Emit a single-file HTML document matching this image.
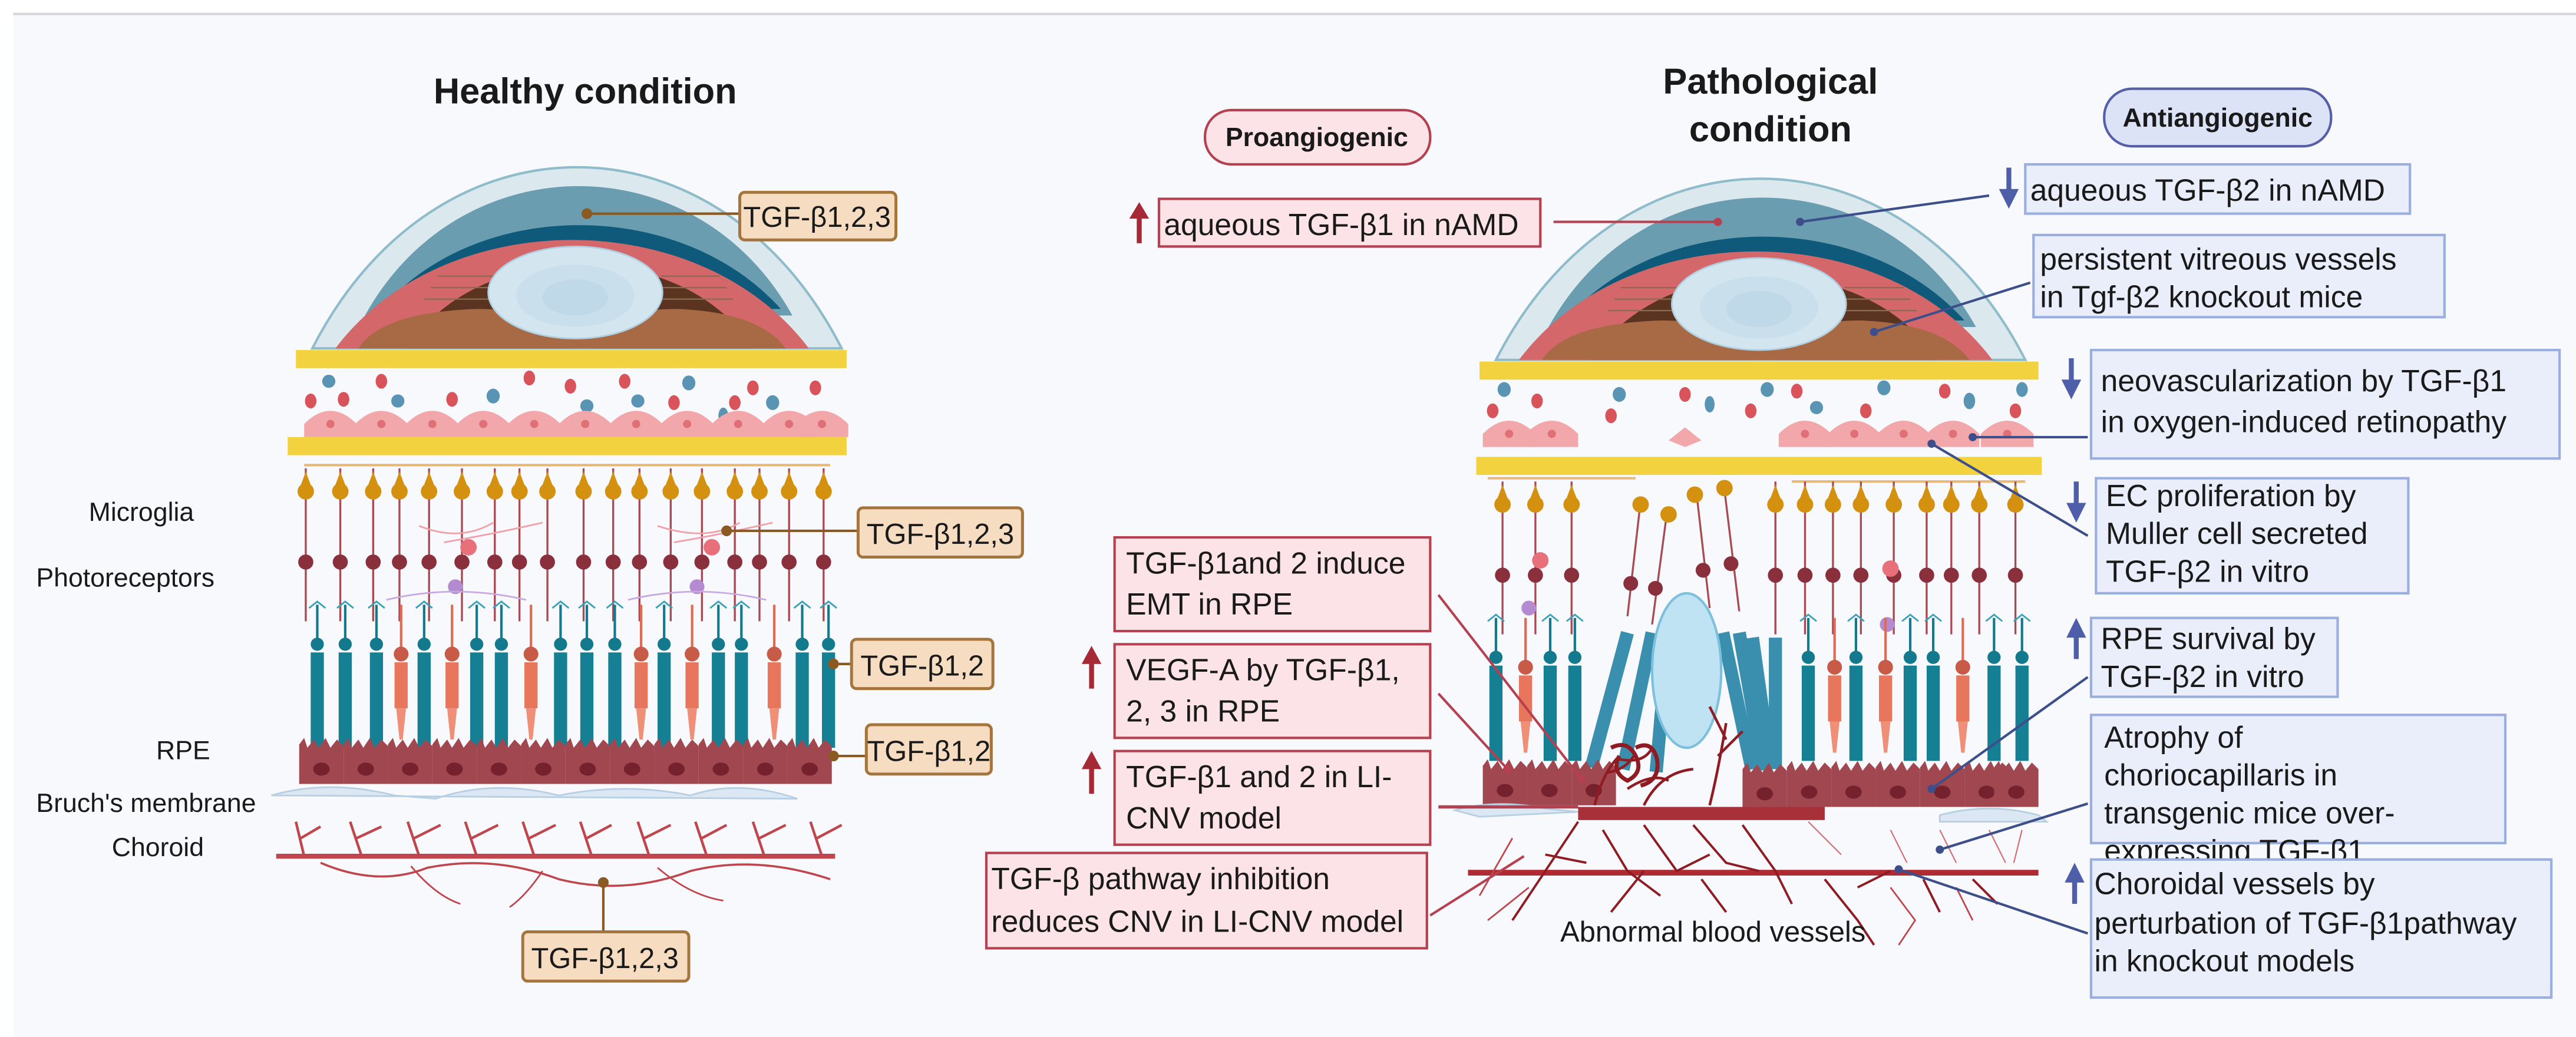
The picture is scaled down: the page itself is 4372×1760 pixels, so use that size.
<!DOCTYPE html>
<html><head><meta charset="utf-8"><style>
html,body{margin:0;padding:0;background:#fff;}
svg{display:block;}
text{font-family:"Liberation Sans",sans-serif;fill:#1a1a1a;}
</style></head><body>
<svg width="4372" height="1760" viewBox="0 0 1567 631" preserveAspectRatio="none" xmlns="http://www.w3.org/2000/svg">
<defs>
 <g id="up">
  <line x1="0" y1="285" x2="0" y2="378" stroke="#a84b55" stroke-width="1.2"/>
  <circle cx="0" cy="299" r="5" fill="#d4900f"/>
  <path d="M-3,295 L0,287 L3,295Z" fill="#d4900f"/>
  <circle cx="0" cy="342" r="4.6" fill="#8a2f3c"/>
 </g>
 <g id="rod">
  <line x1="0" y1="368" x2="0" y2="392" stroke="#13798c" stroke-width="1.5"/>
  <path d="M-5,370 L0,366 L5,370" stroke="#3aa0b5" fill="none" stroke-width="1"/>
  <circle cx="0" cy="392" r="4" fill="#13798c"/>
  <rect x="-4" y="397" width="8" height="58" fill="#157f93"/>
 </g>
 <g id="cone">
  <line x1="0" y1="368" x2="0" y2="398" stroke="#e06a52" stroke-width="1.5"/>
  <circle cx="0" cy="398" r="4.5" fill="#c85a48"/>
  <rect x="-4" y="403" width="8" height="28" fill="#e8765c"/>
  <path d="M-3,431 L3,431 L1,450 L-1,450Z" fill="#f08f78"/>
 </g>
 <g id="rpe">
  <path d="M0,4 L3,0 L5,6 L9,1 L12,6 L16,0 L19,6 L23,1 L27,5 L27,28 L0,28Z" fill="#a0474f"/>
  <ellipse cx="13.5" cy="19" rx="5" ry="4" fill="#76222e"/>
 </g>
 <g id="pc">
  <path d="M0,16 L0,8 Q8,0 16,0 Q24,0 32,8 L32,16Z" fill="#f2a7aa"/>
  <circle cx="16" cy="8" r="2.5" fill="#e07078"/>
 </g>
 <g id="eye">
  <path d="M190,212 C265,65 437,65 512,212Z" fill="#dbe9ef" stroke="#8fbccb" stroke-width="1.5"/>
  <path d="M222,192 C280,87 424,87 482,192Z" fill="#6a9db0"/>
  <path d="M232,188 C290,120 414,120 475,188Z" fill="#0f5a7a"/>
  <path d="M204,212 C270,124 426,124 492,212Z" fill="#d4676a"/>
  <path d="M248,212 C290,144 416,144 458,212Z" fill="#5a3420"/>
  <g stroke="#8a6a50" stroke-width="0.8">
   <line x1="262" y1="175" x2="300" y2="175"/><line x1="258" y1="182" x2="300" y2="182"/><line x1="266" y1="168" x2="300" y2="168"/>
   <line x1="402" y1="175" x2="442" y2="175"/><line x1="402" y1="182" x2="446" y2="182"/><line x1="402" y1="168" x2="438" y2="168"/>
  </g>
  <path d="M218,212 Q232,190 290,188 Q340,188 360,212Z" fill="#a86a45"/>
  <path d="M345,212 Q365,188 412,188 Q462,190 478,212Z" fill="#a86a45"/>
  <ellipse cx="350" cy="178" rx="53" ry="28" fill="#d3e6f0" stroke="#b0d0e2"/>
  <ellipse cx="350" cy="180" rx="36" ry="19" fill="#c9e0ec"/>
  <ellipse cx="350" cy="181" rx="20" ry="11" fill="#bfd9e8"/>
 </g>
</defs>

<rect x="0" y="0" width="1567" height="631" fill="#ffffff"/>
<rect x="8" y="9" width="1559" height="622" fill="#f7f9fc"/>
<line x1="8" y1="8.5" x2="1567" y2="8.5" stroke="#d6d6d6" stroke-width="1.5"/>

<!-- Titles -->
<text x="356" y="63" font-size="22" font-weight="bold" text-anchor="middle">Healthy condition</text>
<text x="1077" y="57" font-size="22" font-weight="bold" text-anchor="middle">Pathological</text>
<text x="1077" y="86" font-size="22" font-weight="bold" text-anchor="middle">condition</text>

<rect x="733" y="67" width="137" height="33" rx="16" fill="#fbe3e8" stroke="#b5404f" stroke-width="1.5"/>
<text x="801" y="89" font-size="16" font-weight="bold" text-anchor="middle">Proangiogenic</text>
<rect x="1280" y="54" width="138" height="35" rx="17" fill="#dde3f7" stroke="#5560a8" stroke-width="1.5"/>
<text x="1349" y="77" font-size="16" font-weight="bold" text-anchor="middle">Antiangiogenic</text>

<!-- LEFT EYE -->
<use href="#eye"/>
<rect x="180" y="213" width="335" height="11" fill="#f2d33f"/>
<g>
 <ellipse cx="200" cy="232" rx="4" ry="4" fill="#5a94b5"/><ellipse cx="189" cy="244" rx="3.5" ry="4.5" fill="#d9535b"/>
 <ellipse cx="209" cy="243" rx="3.5" ry="4.5" fill="#d9535b"/><ellipse cx="232" cy="232" rx="3.5" ry="4.5" fill="#d9535b"/>
 <ellipse cx="242" cy="244" rx="4" ry="4" fill="#5a94b5"/><ellipse cx="275" cy="243" rx="3.5" ry="4.5" fill="#d9535b"/>
 <ellipse cx="300" cy="241" rx="4" ry="4.5" fill="#5a94b5"/><ellipse cx="322" cy="230" rx="3.5" ry="4.5" fill="#d9535b"/>
 <ellipse cx="347" cy="235" rx="3.5" ry="4.5" fill="#d9535b"/><ellipse cx="357" cy="247" rx="4" ry="4" fill="#5a94b5"/>
 <ellipse cx="380" cy="232" rx="3.5" ry="4.5" fill="#d9535b"/><ellipse cx="388" cy="244" rx="4" ry="4" fill="#5a94b5"/>
 <ellipse cx="419" cy="233" rx="4" ry="4.5" fill="#5a94b5"/><ellipse cx="410" cy="245" rx="3.5" ry="4.5" fill="#d9535b"/>
 <ellipse cx="440" cy="253" rx="3" ry="5" fill="#5a94b5"/><ellipse cx="447" cy="245" rx="3.5" ry="4.5" fill="#d9535b"/>
 <ellipse cx="458" cy="236" rx="3.5" ry="4.5" fill="#d9535b"/><ellipse cx="470" cy="245" rx="4" ry="4.5" fill="#5a94b5"/>
 <ellipse cx="496" cy="236" rx="3.5" ry="4.5" fill="#d9535b"/>
</g>
<g>
 <use href="#pc" x="185" y="250"/><use href="#pc" x="216" y="250"/><use href="#pc" x="247" y="250"/><use href="#pc" x="278" y="250"/>
 <use href="#pc" x="309" y="250"/><use href="#pc" x="340" y="250"/><use href="#pc" x="371" y="250"/><use href="#pc" x="402" y="250"/>
 <use href="#pc" x="433" y="250"/><use href="#pc" x="464" y="250"/><use href="#pc" x="484" y="250"/>
</g>
<rect x="175" y="266" width="340" height="11" fill="#f2d33f"/>
<line x1="185" y1="283" x2="505" y2="283" stroke="#e6b87a" stroke-width="1.5"/>
<!-- left columns -->
<g>
 <use href="#up" x="186"/><use href="#up" x="207"/><use href="#up" x="227"/><use href="#up" x="243"/><use href="#up" x="261"/>
 <use href="#up" x="281"/><use href="#up" x="301"/><use href="#up" x="316"/><use href="#up" x="333"/><use href="#up" x="355"/>
 <use href="#up" x="373"/><use href="#up" x="389"/><use href="#up" x="408"/><use href="#up" x="427"/><use href="#up" x="447"/>
 <use href="#up" x="462"/><use href="#up" x="480"/><use href="#up" x="501"/>
 <path d="M255,320 Q280,330 300,318 M270,330 Q300,325 330,318" stroke="#f0a0a8" fill="none" stroke-width="1"/>
 <circle cx="285" cy="333" r="5" fill="#e8707a"/>
 <path d="M400,320 Q430,330 450,318 M410,330 Q440,325 470,318" stroke="#f0a0a8" fill="none" stroke-width="1"/>
 <circle cx="433" cy="333" r="5" fill="#e8707a"/>
 <circle cx="277" cy="357" r="4.5" fill="#b48ad0"/><path d="M235,365 Q277,355 320,365" stroke="#c8a8e0" fill="none"/>
 <circle cx="424" cy="357" r="4.5" fill="#b48ad0"/><path d="M382,365 Q424,355 466,365" stroke="#c8a8e0" fill="none"/>
 <use href="#rod" x="193"/><use href="#rod" x="210"/><use href="#rod" x="229"/><use href="#rod" x="258"/><use href="#rod" x="290"/>
 <use href="#rod" x="305"/><use href="#rod" x="341"/><use href="#rod" x="357"/><use href="#rod" x="374"/><use href="#rod" x="404"/>
 <use href="#rod" x="437"/><use href="#rod" x="451"/><use href="#rod" x="488"/><use href="#rod" x="504"/>
 <use href="#cone" x="244"/><use href="#cone" x="275"/><use href="#cone" x="323"/><use href="#cone" x="390"/><use href="#cone" x="421"/><use href="#cone" x="471"/>
</g>
<g>
 <use href="#rpe" x="182" y="449"/><use href="#rpe" x="209" y="449"/><use href="#rpe" x="236" y="449"/><use href="#rpe" x="263" y="449"/>
 <use href="#rpe" x="290" y="449"/><use href="#rpe" x="317" y="449"/><use href="#rpe" x="344" y="449"/><use href="#rpe" x="371" y="449"/>
 <use href="#rpe" x="398" y="449"/><use href="#rpe" x="425" y="449"/><use href="#rpe" x="452" y="449"/><use href="#rpe" x="479" y="449"/>
</g>
<path d="M165,484 Q200,474 240,484 L265,486 Q300,474 340,484 Q380,476 420,484 Q450,474 485,486 Z" fill="#dbe8f3" stroke="#b8cfe3"/>
<!-- choroid -->
<g stroke="#c0464e" fill="none" stroke-width="1.6">
 <line x1="168" y1="521" x2="508" y2="521" stroke-width="3"/>
 <path d="M185,521 L180,500 M183,510 L195,503 M220,521 L213,500 M217,510 L232,503 M255,521 L248,500 M252,510 L268,502 M290,521 L283,500 M287,510 L303,502 M325,521 L318,500 M322,510 L338,502 M360,521 L353,500 M357,510 L372,502 M395,521 L388,500 M392,510 L408,502 M430,521 L423,500 M427,510 L442,502 M465,521 L458,500 M462,510 L478,502 M500,521 L493,500 M497,510 L512,502"/>
 <path d="M195,525 Q230,540 260,528 Q300,520 340,535 Q380,545 420,530 Q460,520 505,535" stroke-width="1.3"/>
 <path d="M250,527 Q265,545 280,550 M400,528 Q420,545 440,548 M330,530 Q320,545 310,552" stroke-width="1"/>
</g>
<!-- Left labels -->
<text x="54" y="317" font-size="16">Microglia</text>
<text x="22" y="357" font-size="16">Photoreceptors</text>
<text x="95" y="462" font-size="16">RPE</text>
<text x="22" y="494" font-size="16">Bruch's membrane</text>
<text x="68" y="521" font-size="16">Choroid</text>
<!-- tan boxes -->
<g stroke="#8a5a22" stroke-width="1.5">
 <line x1="357" y1="130" x2="450" y2="130"/><circle cx="357" cy="130" r="2.5" fill="#8a5a22"/>
 <line x1="442" y1="323" x2="522" y2="323"/><circle cx="442" cy="323" r="2.5" fill="#8a5a22"/>
 <line x1="507" y1="404" x2="518" y2="404"/><circle cx="507" cy="404" r="2.5" fill="#8a5a22"/>
 <line x1="507" y1="460" x2="527" y2="460"/><circle cx="507" cy="460" r="2.5" fill="#8a5a22"/>
 <line x1="367" y1="537" x2="367" y2="567"/><circle cx="367" cy="537" r="2.5" fill="#8a5a22"/>
</g>
<g fill="#f6dcc0" stroke="#a6753e" stroke-width="1.8">
 <rect x="450" y="117" width="95" height="29" rx="3"/>
 <rect x="522" y="309" width="100" height="30" rx="3"/>
 <rect x="518" y="389" width="86" height="30" rx="3"/>
 <rect x="527" y="441" width="76" height="30" rx="3"/>
 <rect x="318" y="567" width="101" height="30" rx="3"/>
</g>
<text x="497" y="138" font-size="17.5" text-anchor="middle">TGF-β1,2,3</text>
<text x="572" y="331" font-size="17.5" text-anchor="middle">TGF-β1,2,3</text>
<text x="561" y="411" font-size="17.5" text-anchor="middle">TGF-β1,2</text>
<text x="565" y="463" font-size="17.5" text-anchor="middle">TGF-β1,2</text>
<text x="368" y="589" font-size="17.5" text-anchor="middle">TGF-β1,2,3</text>

<!-- RIGHT EYE -->
<use href="#eye" transform="translate(720,7)"/>
<rect x="900" y="220" width="340" height="11" fill="#f2d33f"/>
<g>
 <ellipse cx="915" cy="237" rx="4" ry="4.5" fill="#5a94b5"/><ellipse cx="908" cy="250" rx="3.5" ry="4.5" fill="#d9535b"/>
 <ellipse cx="935" cy="244" rx="3.5" ry="4.5" fill="#d9535b"/><ellipse cx="985" cy="240" rx="4" ry="4.5" fill="#5a94b5"/>
 <ellipse cx="980" cy="253" rx="3.5" ry="4.5" fill="#d9535b"/><ellipse cx="1025" cy="240" rx="3.5" ry="4.5" fill="#d9535b"/>
 <ellipse cx="1040" cy="246" rx="3" ry="5" fill="#5a94b5"/><ellipse cx="1065" cy="250" rx="3.5" ry="4.5" fill="#d9535b"/>
 <ellipse cx="1075" cy="237" rx="4" ry="4.5" fill="#5a94b5"/><ellipse cx="1093" cy="238" rx="3.5" ry="4.5" fill="#d9535b"/>
 <ellipse cx="1105" cy="248" rx="4" ry="4" fill="#5a94b5"/><ellipse cx="1135" cy="250" rx="3.5" ry="4.5" fill="#d9535b"/>
 <ellipse cx="1146" cy="236" rx="4" ry="4.5" fill="#5a94b5"/><ellipse cx="1183" cy="238" rx="3.5" ry="4.5" fill="#d9535b"/>
 <ellipse cx="1198" cy="244" rx="3.5" ry="5" fill="#5a94b5"/><ellipse cx="1230" cy="237" rx="3.5" ry="4.5" fill="#5a94b5"/>
 <ellipse cx="1226" cy="250" rx="3.5" ry="4.5" fill="#d9535b"/>
</g>
<g>
 <use href="#pc" x="902" y="256"/><use href="#pc" x="928" y="256"/>
 <path d="M1015,268 L1025,260 L1035,268 L1025,272Z" fill="#f2a7aa"/>
 <use href="#pc" x="1082" y="256"/><use href="#pc" x="1112" y="256"/><use href="#pc" x="1142" y="256"/><use href="#pc" x="1172" y="256"/><use href="#pc" x="1205" y="256"/>
</g>
<rect x="898" y="278" width="344" height="11" fill="#f2d33f"/>
<!-- right columns -->
<g transform="translate(0,8)">
 <line x1="905" y1="283" x2="995" y2="283" stroke="#e6b87a" stroke-width="1.5"/>
 <line x1="1090" y1="285" x2="1232" y2="285" stroke="#e6b87a" stroke-width="1.5"/>
 <use href="#up" x="914"/><use href="#up" x="934"/><use href="#up" x="956"/>
 <use href="#up" x="1080"/>
 <use href="#up" x="1098"/><use href="#up" x="1115"/><use href="#up" x="1132"/><use href="#up" x="1152"/><use href="#up" x="1172"/>
 <use href="#up" x="1187"/><use href="#up" x="1204"/><use href="#up" x="1226"/>
 <circle cx="937" cy="333" r="5" fill="#e8707a"/><circle cx="1150" cy="338" r="5" fill="#e8707a"/>
 <circle cx="930" cy="362" r="4.5" fill="#b48ad0"/><circle cx="1148" cy="372" r="4.5" fill="#b48ad0"/>
 <use href="#rod" x="910"/><use href="#rod" x="943"/><use href="#rod" x="958"/><use href="#cone" x="928"/>
 <use href="#rod" x="1100"/><use href="#rod" x="1129"/><use href="#rod" x="1162"/><use href="#rod" x="1176"/><use href="#rod" x="1213"/><use href="#rod" x="1230"/>
 <use href="#cone" x="1116"/><use href="#cone" x="1147"/><use href="#cone" x="1194"/>
</g>
<!-- tilted middle -->
<g stroke-width="1.2">
 <g stroke="#a84b55"><line x1="998" y1="305" x2="990" y2="375"/><line x1="1014" y1="312" x2="1005" y2="380"/><line x1="1032" y1="300" x2="1040" y2="370"/><line x1="1049" y1="298" x2="1058" y2="372"/></g>
 <circle cx="998" cy="307" r="5" fill="#d4900f"/><circle cx="1015" cy="313" r="5" fill="#d4900f"/><circle cx="1031" cy="301" r="5" fill="#d4900f"/><circle cx="1049" cy="297" r="5" fill="#d4900f"/>
 <circle cx="992" cy="355" r="4.5" fill="#8a2f3c"/><circle cx="1007" cy="358" r="4.5" fill="#8a2f3c"/><circle cx="1036" cy="347" r="4.5" fill="#8a2f3c"/><circle cx="1053" cy="343" r="4.5" fill="#8a2f3c"/>
 <g fill="#3b8fae">
  <rect x="-4" y="0" width="8" height="85" transform="translate(990,385) rotate(15)"/>
  <rect x="-4" y="0" width="8" height="85" transform="translate(1005,385) rotate(12)"/>
  <rect x="-4" y="0" width="8" height="75" transform="translate(1014,395) rotate(5)"/>
  <rect x="-4" y="0" width="8" height="85" transform="translate(1048,385) rotate(-12)"/>
  <rect x="-4" y="0" width="8" height="85" transform="translate(1058,385) rotate(-10)"/>
  <rect x="-4" y="0" width="8" height="80" transform="translate(1066,388) rotate(-8)"/>
  <rect x="-4" y="0" width="8" height="80" transform="translate(1080,388) rotate(0)"/>
 </g>
</g>
<ellipse cx="1026" cy="408" rx="21" ry="47" fill="#bfe3f2" stroke="#7cc0de" stroke-width="1.5"/>
<g>
 <use href="#rpe" x="902" y="462"/><use href="#rpe" x="929" y="462"/><use href="#rpe" x="956" y="462"/>
 <use href="#rpe" x="1060" y="464"/><use href="#rpe" x="1087" y="463"/><use href="#rpe" x="1114" y="463"/>
 <use href="#rpe" x="1141" y="463"/><use href="#rpe" x="1168" y="463"/><use href="#rpe" x="1195" y="463"/><use href="#rpe" x="1213" y="463"/>
</g>
<path d="M885,493 Q910,486 940,492 L960,494 L900,497Z M1180,496 Q1210,488 1240,496 L1245,500 L1180,500Z" fill="#dbe8f3" stroke="#b8cfe3"/>
<!-- abnormal vessels -->
<g stroke="#8e1c22" fill="none" stroke-width="1.6">
 <rect x="960" y="491" width="150" height="8" fill="#a83038" stroke="none"/>
 <line x1="875" y1="491" x2="960" y2="491" stroke="#b5404f" stroke-width="2"/>
 <line x1="893" y1="531" x2="1240" y2="531" stroke="#b02a32" stroke-width="3.5"/>
 <path d="M970,490 Q975,470 985,460 M978,470 Q990,468 995,458 M985,462 Q1000,465 1005,455 M990,480 Q1005,470 1015,475 M1000,490 Q1010,470 1030,468 M1040,490 Q1045,470 1050,440 M1045,460 L1060,445 M1050,450 L1040,430"/>
 <path d="M980,455 Q990,450 995,460 Q1000,470 990,475 Q980,470 985,460 M995,455 Q1005,450 1008,462 Q1010,475 998,478" stroke-width="2.5"/>
 <path d="M960,500 L940,530 L920,560 M975,505 L990,530 L1010,545 M1000,502 L1020,530 L1040,520 M1030,502 L1050,525 L1070,530 M1060,502 L1080,530 L1090,550 M940,520 L965,525 M1000,530 L980,555 M1035,535 L1050,555 M1110,535 L1130,560 L1140,575 M1130,540 L1150,530 M1170,535 L1180,555 M1200,535 L1215,550" stroke-width="1.4"/>
 <path d="M1100,500 L1120,520 M1150,505 L1160,525 M1180,505 L1190,525 M1210,505 L1220,525 M1230,505 L1225,525" stroke="#d57077" stroke-width="0.8"/>
 <path d="M900,545 L920,510 M905,560 L930,540 M1150,540 L1165,560 L1155,575 M1190,540 L1200,560" stroke="#c0464e" stroke-width="1"/>
</g>
<text x="1042" y="573" font-size="17.5" text-anchor="middle">Abnormal blood vessels</text>

<!-- pink connectors -->
<g stroke="#b5404f" stroke-width="1.5" fill="none">
 <line x1="945" y1="135" x2="1045" y2="135"/>
 <line x1="875" y1="362" x2="962" y2="474"/>
 <line x1="875" y1="422" x2="917" y2="468"/>
 <line x1="870" y1="557" x2="927" y2="521"/>
</g>
<circle cx="1045" cy="135" r="2.5" fill="#b5404f"/><circle cx="962" cy="474" r="2.5" fill="#b5404f"/><circle cx="917" cy="468" r="2.5" fill="#b5404f"/>
<!-- blue connectors -->
<g stroke="#3d4f8a" stroke-width="1.5">
 <line x1="1210" y1="119" x2="1095" y2="135"/>
 <line x1="1235" y1="172" x2="1140" y2="202"/>
 <line x1="1270" y1="266" x2="1200" y2="266"/>
 <line x1="1270" y1="326" x2="1175" y2="270"/>
 <line x1="1270" y1="412" x2="1175" y2="480"/>
 <line x1="1270" y1="489" x2="1180" y2="517"/>
 <line x1="1270" y1="568" x2="1155" y2="529"/>
</g>
<g fill="#3d4f8a">
 <circle cx="1095" cy="135" r="2.5"/><circle cx="1140" cy="202" r="2.5"/><circle cx="1200" cy="266" r="2.5"/><circle cx="1175" cy="270" r="2.5"/>
 <circle cx="1175" cy="480" r="2.5"/><circle cx="1180" cy="517" r="2.5"/><circle cx="1155" cy="529" r="2.5"/>
</g>

<!-- pink boxes -->
<g fill="#fbe3e8" stroke="#b5404f" stroke-width="1.5">
 <rect x="705" y="121" width="232" height="29"/>
 <rect x="678" y="327" width="192" height="57"/>
 <rect x="678" y="392" width="192" height="57"/>
 <rect x="678" y="457" width="192" height="57"/>
 <rect x="600" y="519" width="268" height="58"/>
</g>
<g font-size="18.5">
 <text x="708" y="143">aqueous TGF-β1 in nAMD</text>
 <text x="685" y="349">TGF-β1and 2 induce</text><text x="685" y="374">EMT in RPE</text>
 <text x="685" y="414">VEGF-A by TGF-β1,</text><text x="685" y="439">2, 3 in RPE</text>
 <text x="685" y="479">TGF-β1 and 2 in LI-</text><text x="685" y="504">CNV model</text>
 <text x="603" y="541">TGF-β pathway inhibition</text><text x="603" y="567">reduces CNV in LI-CNV model</text>
</g>
<!-- red arrows -->
<g fill="#a52a35">
 <rect x="691.5" y="131" width="3" height="17"/><path d="M687,133 L693,123 L699,133Z"/>
 <rect x="662.5" y="402" width="3" height="17"/><path d="M658,404 L664,393 L670,404Z"/>
 <rect x="662.5" y="466" width="3" height="17"/><path d="M658,468 L664,457 L670,468Z"/>
</g>

<!-- blue boxes -->
<g fill="#e9eefa" stroke="#9aaee0" stroke-width="1.5">
 <rect x="1232" y="100" width="234" height="30"/>
 <rect x="1237" y="143" width="250" height="50"/>
 <rect x="1272" y="213" width="285" height="66"/>
 <rect x="1275" y="291" width="190" height="70"/>
 <rect x="1272" y="376" width="150" height="48"/>
 <rect x="1272" y="435" width="252" height="78"/>
</g>
<g font-size="18.5">
 <text x="1235" y="122">aqueous TGF-β2 in nAMD</text>
 <text x="1241" y="164">persistent vitreous vessels</text><text x="1241" y="187">in Tgf-β2 knockout mice</text>
 <text x="1278" y="238">neovascularization by TGF-β1</text><text x="1278" y="263">in oxygen-induced retinopathy</text>
 <text x="1281" y="308">EC proliferation by</text><text x="1281" y="331">Muller cell secreted</text><text x="1281" y="354">TGF-β2 in vitro</text>
 <text x="1278" y="395">RPE survival by</text><text x="1278" y="418">TGF-β2 in vitro</text>
 <text x="1280" y="455">Atrophy of</text><text x="1280" y="478">choriocapillaris in</text><text x="1280" y="501">transgenic mice over-</text><text x="1280" y="524">expressing TGF-β1</text>
</g>
<rect x="1272" y="523" width="280" height="84" fill="#e9eefa" stroke="#9aaee0" stroke-width="1.5"/>
<g font-size="18.5">
 <text x="1274" y="544">Choroidal vessels by</text><text x="1274" y="568">perturbation of TGF-β1pathway</text><text x="1274" y="591">in knockout models</text>
</g>
<g fill="#4f5ea8">
 <rect x="1220.5" y="102" width="3" height="15"/><path d="M1216,115 L1222,127 L1228,115Z"/>
 <rect x="1258.5" y="218" width="3" height="15"/><path d="M1254,231 L1260,243 L1266,231Z"/>
 <rect x="1261.5" y="293" width="3" height="15"/><path d="M1257,306 L1263,318 L1269,306Z"/>
 <rect x="1261.5" y="386" width="3" height="15"/><path d="M1257,388 L1263,376 L1269,388Z"/>
 <rect x="1260.5" y="535" width="3" height="15"/><path d="M1256,537 L1262,525 L1268,537Z"/>
</g>
</svg>
</body></html>
